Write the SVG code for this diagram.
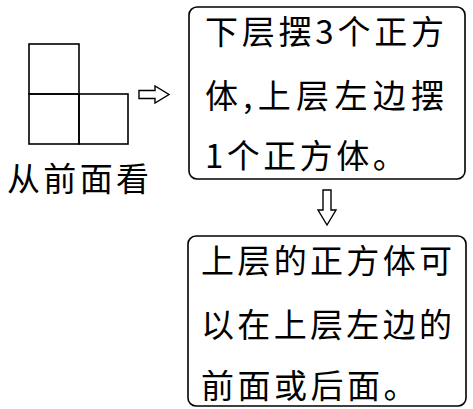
<svg xmlns="http://www.w3.org/2000/svg" width="473" height="409" viewBox="0 0 473 409">
<style>
.sq{fill:none;stroke:#000;stroke-width:1.6}
.box{fill:#fff;stroke:#000;stroke-width:1.6}
.arr{fill:#fff;stroke:#000;stroke-width:1.4;stroke-linejoin:miter}
text{font-family:"Noto Sans CJK SC","Noto Sans CJK JP",sans-serif;font-size:33px;fill:#000}
</style>
<rect width="473" height="409" fill="#fff"/>
<g id="front-view">
<rect class="sq" x="29" y="44" width="50" height="50"/>
<rect class="sq" x="29" y="94" width="50" height="50"/>
<rect class="sq" x="79" y="94" width="49" height="50"/>
<text x="7" y="191" textLength="142" lengthAdjust="spacing">从前面看</text>
</g>
<g id="connectors">
<path class="arr" d="M139,90.5 H155 V86 L169,94.5 L155,103 V98.5 H139 Z"/>
<path class="arr" d="M323,190 H331 V210 H336 L327,225 L318,210 H323 Z"/>
</g>
<g id="box1">
<rect class="box" x="189" y="7" width="276" height="172" rx="8"/>
<text x="205" y="44" textLength="239" lengthAdjust="spacing">下层摆3个正方</text>
<text x="205" y="108" textLength="239" lengthAdjust="spacing">体,上层左边摆</text>
<text x="205" y="168" letter-spacing="3.5">1个正方体。</text>
</g>
<g id="box2">
<rect class="box" x="188" y="236" width="278" height="170" rx="8"/>
<text x="201" y="273" textLength="251" lengthAdjust="spacing">上层的正方体可</text>
<text x="201" y="337" textLength="251" lengthAdjust="spacing">以在上层左边的</text>
<text x="201" y="398" letter-spacing="3.5">前面或后面。</text>
</g>
</svg>
